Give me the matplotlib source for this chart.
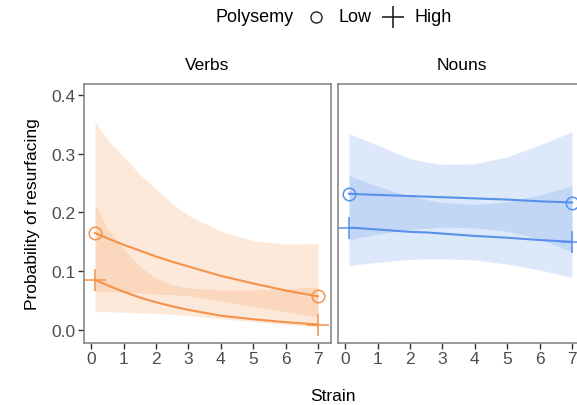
import matplotlib
matplotlib.use("Agg")
import matplotlib.pyplot as plt
from matplotlib.lines import Line2D

plt.rcParams['font.family'] = ['Liberation Sans', 'DejaVu Sans']

strain = [0.12, 0.5, 1, 1.5, 2, 2.5, 3, 4, 5, 6, 7]
panels = ["Verbs", "Nouns"]
colors = {"Verbs": "#F4924A", "Nouns": "#5891EA"}

# Verbs
verbs_low = [0.165, 0.156, 0.145, 0.135, 0.125, 0.116, 0.108, 0.092, 0.079, 0.067, 0.057]
verbs_low_hi = [0.355, 0.325, 0.295, 0.265, 0.240, 0.215, 0.195, 0.168, 0.152, 0.146, 0.147]
verbs_low_lo = [0.065, 0.065, 0.064, 0.063, 0.061, 0.060, 0.058, 0.049, 0.040, 0.031, 0.022]
verbs_high = [0.085, 0.076, 0.065, 0.055, 0.047, 0.040, 0.034, 0.024, 0.018, 0.013, 0.009]
verbs_high_hi = [0.215, 0.172, 0.138, 0.108, 0.088, 0.077, 0.071, 0.068, 0.068, 0.070, 0.073]
verbs_high_lo = [0.031, 0.031, 0.030, 0.029, 0.028, 0.026, 0.024, 0.019, 0.014, 0.009, 0.005]

# Nouns
nouns_low = [0.232, 0.231, 0.230, 0.229, 0.228, 0.227, 0.226, 0.224, 0.222, 0.219, 0.217]
nouns_low_hi = [0.334, 0.326, 0.315, 0.303, 0.292, 0.286, 0.282, 0.283, 0.295, 0.315, 0.338]
nouns_low_lo = [0.153, 0.158, 0.163, 0.167, 0.171, 0.173, 0.175, 0.174, 0.168, 0.155, 0.133]
nouns_high = [0.174, 0.173, 0.171, 0.169, 0.167, 0.166, 0.164, 0.160, 0.157, 0.153, 0.150]
nouns_high_hi = [0.263, 0.255, 0.245, 0.236, 0.228, 0.222, 0.217, 0.214, 0.218, 0.230, 0.245]
nouns_high_lo = [0.109, 0.112, 0.115, 0.118, 0.120, 0.121, 0.121, 0.119, 0.112, 0.102, 0.089]

data = {
    "Verbs": (verbs_low, verbs_low_lo, verbs_low_hi, verbs_high, verbs_high_lo, verbs_high_hi),
    "Nouns": (nouns_low, nouns_low_lo, nouns_low_hi, nouns_high, nouns_high_lo, nouns_high_hi),
}

xticks = [0, 1, 2, 3, 4, 5, 6, 7]
yticks = [0.0, 0.1, 0.2, 0.3, 0.4]
legend_title = "Polysemy"
legend_labels = ["Low", "High"]

W, H = 577, 406
fig = plt.figure(figsize=(W / 100, H / 100), dpi=100)

def frac(x0, y0, x1, y1):
    return [x0 / W, 1 - y1 / H, (x1 - x0) / W, (y1 - y0) / H]

axes = [fig.add_axes(frac(84, 85, 331, 344)), fig.add_axes(frac(338, 85, 585, 344))]

FS = 12.5
spine_col = "#7F7F7F"
for ax, name in zip(axes, panels):
    c = colors[name]
    lo, lo_l, lo_h, hi, hi_l, hi_h = data[name]
    ax.fill_between(strain, lo_l, lo_h, color=c, alpha=0.2, linewidth=0)
    ax.fill_between(strain, hi_l, hi_h, color=c, alpha=0.2, linewidth=0)
    ax.plot(strain, lo, color=c, lw=1.5)
    ax.plot(strain, hi, color=c, lw=1.5)
    ax.plot([strain[0], strain[-1]], [lo[0], lo[-1]], ls='none', marker='o',
            mfc='none', mec=c, ms=9, mew=1.1)
    ax.plot([strain[0], strain[-1]], [hi[0], hi[-1]], ls='none', marker='+',
            mec=c, ms=16, mew=1.1)
    ax.set_xlim(-0.22, 7.40)
    ax.set_ylim(-0.0225, 0.419)
    ax.set_xticks(xticks)
    ax.set_xticklabels([str(t) for t in xticks])
    for s in ax.spines.values():
        s.set_color(spine_col)
        s.set_linewidth(1.1)
    ax.tick_params(axis='both', colors="#333333", labelcolor="#4D4D4D",
                   labelsize=FS, length=4, width=1, direction='out', pad=2)
    ax.set_title(name, fontsize=FS, color="black", pad=11)

axes[0].set_yticks(yticks)
axes[0].set_yticklabels([f"{t:.1f}" for t in yticks])
axes[1].set_yticks([])
axes[0].set_ylabel("Probability of resurfacing", fontsize=FS, labelpad=8)

fig.text(333 / W, 1 - 397 / H, "Strain", fontsize=FS, ha='center', va='center')

# legend (manual layout)
ly = 1 - 18 / H
fig.text(255 / W, ly, legend_title, fontsize=13, ha='center', va='center')
fig.add_artist(Line2D([316 / W], [ly], transform=fig.transFigure, ls='none', marker='o',
                      mfc='none', mec='#222222', ms=8, mew=1.0))
fig.text(339 / W, ly, legend_labels[0], fontsize=13, ha='left', va='center')
fig.add_artist(Line2D([393 / W], [ly], transform=fig.transFigure, ls='none', marker='+',
                      mec='#222222', ms=16, mew=1.2))
fig.text(415 / W, ly, legend_labels[1], fontsize=13, ha='left', va='center')

fig.savefig("out.png", dpi=100)
